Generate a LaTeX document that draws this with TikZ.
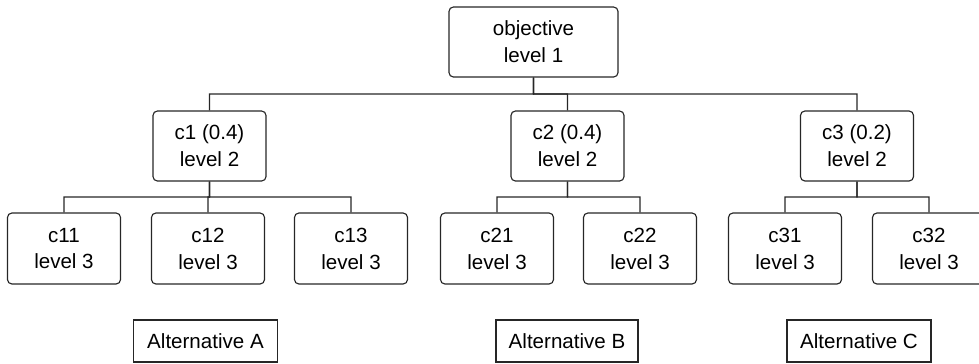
\documentclass[tikz,border=0pt]{standalone}
\usepackage{fontspec}
\setmainfont{Liberation Sans}
\usetikzlibrary{calc}

\tikzset{
  lvlbox/.style={draw, rounded corners=2.5pt, align=center, inner sep=0pt,
    minimum width=113*0.02cm, minimum height=70*0.02cm},
  altbox/.style={draw, align=center, inner sep=0pt,
    minimum width=143*0.02cm, minimum height=42*0.02cm},
  link/.style={line width=0.65pt}
}

\begin{document}
\begin{tikzpicture}[x=0.02cm, y=-0.02cm, line width=0.65pt, draw=black!85]
\tikzset{every node/.style={font=\fontsize{11.7}{15.3}\selectfont}}
\useasboundingbox (0,0) rectangle (979,363);

% level 1
\node[lvlbox, minimum width=169*0.02cm] (obj) at (533.5,42) {objective\\level 1};

% level 2
\node[lvlbox] (c1) at (209.5,146) {c1 (0.4)\\level 2};
\node[lvlbox] (c2) at (567.5,146) {c2 (0.4)\\level 2};
\node[lvlbox] (c3) at (857,146) {c3 (0.2)\\level 2};

% level 3
\node[lvlbox, minimum height=71*0.02cm] (c11) at (64,248.5) {c11\\level 3};
\node[lvlbox, minimum height=71*0.02cm] (c12) at (208,248.5) {c12\\level 3};
\node[lvlbox, minimum height=71*0.02cm] (c13) at (351,248.5) {c13\\level 3};
\node[lvlbox, minimum height=71*0.02cm] (c21) at (497,248.5) {c21\\level 3};
\node[lvlbox, minimum height=71*0.02cm] (c22) at (640,248.5) {c22\\level 3};
\node[lvlbox, minimum height=71*0.02cm] (c31) at (785,248.5) {c31\\level 3};
\node[lvlbox, minimum height=71*0.02cm] (c32) at (929,248.5) {c32\\level 3};

% alternatives
\node[altbox, minimum width=144*0.02cm] (altA) at (205.5,341) {Alternative A};
\node[altbox, minimum width=142*0.02cm] (altB) at (567,341) {Alternative B};
\node[altbox, minimum width=144*0.02cm] (altC) at (859,341) {Alternative C};

% tree lines
\foreach \p/\c in {obj/c1, obj/c2, obj/c3,
                   c1/c11, c1/c12, c1/c13,
                   c2/c21, c2/c22,
                   c3/c31, c3/c32}
  \draw[link] (\p.south) -- ($(\p.south)!.5!(\p.south |- \c.north)$) -| (\c.north);

\end{tikzpicture}
\end{document}
